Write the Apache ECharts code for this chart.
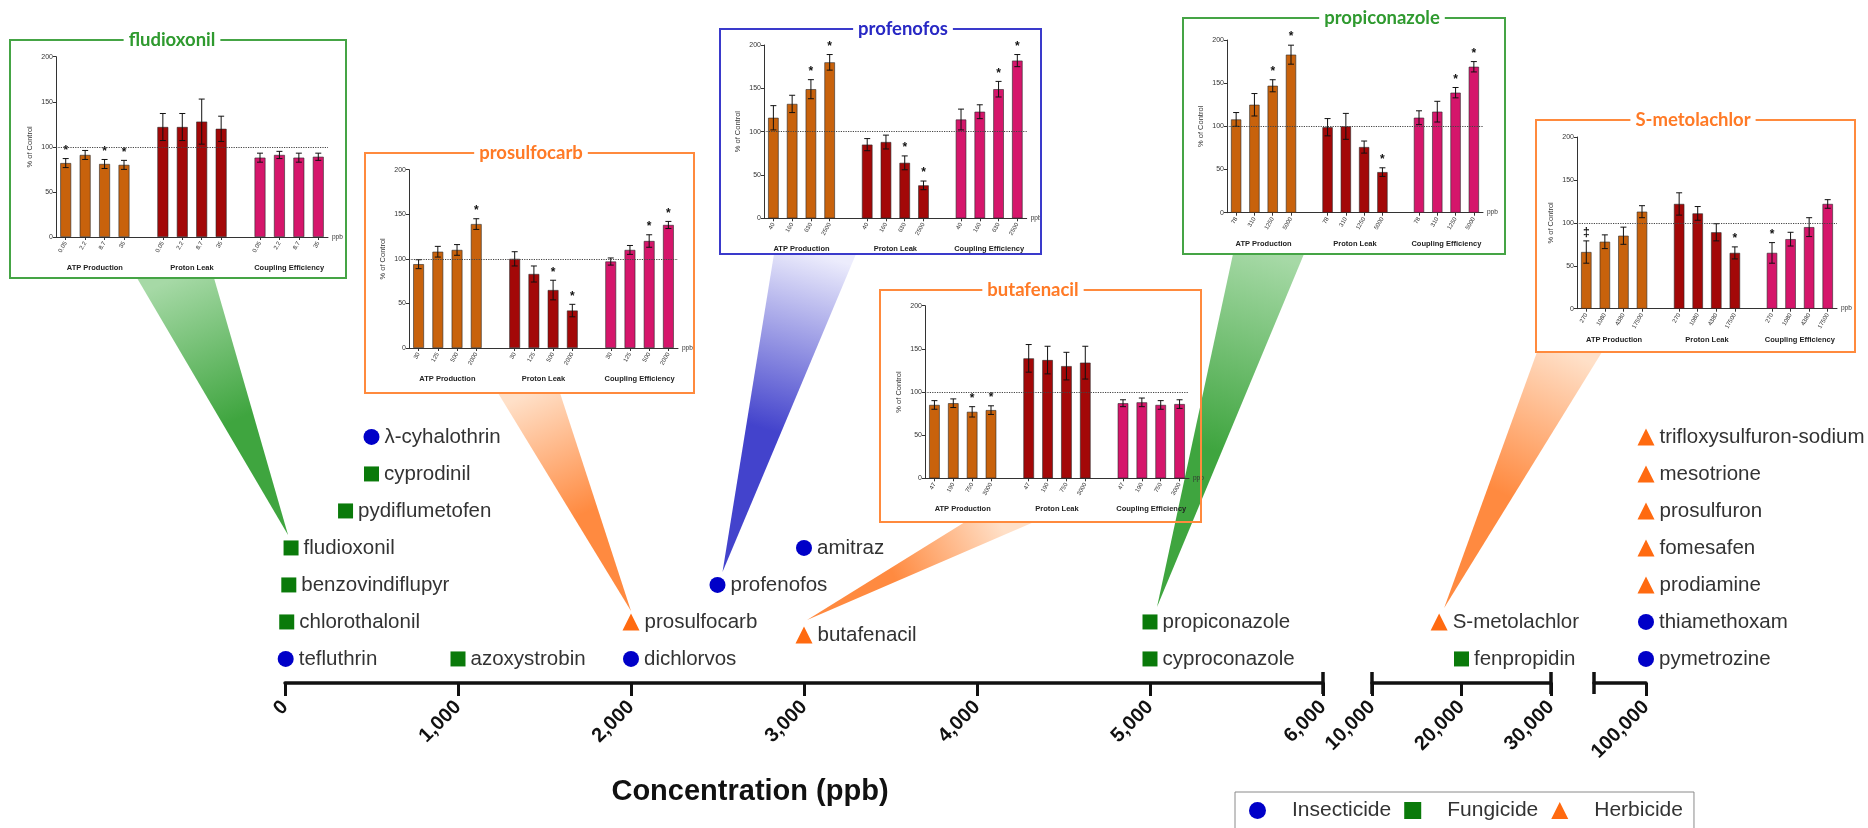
<!DOCTYPE html>
<html>
<head>
<meta charset="utf-8">
<script src="https://cdn.jsdelivr.net/npm/echarts@6/dist/echarts.min.js"></script>
<style>
  html, body { margin: 0; padding: 0; background: #ffffff; }
  #chart { width: 1868px; height: 828px; }
</style>
</head>
<body>
<div id="chart"></div>
<script>
// ---------------- data ----------------
const classNames = ['Insecticide', 'Fungicide', 'Herbicide'];

const compoundNames = ['tefluthrin', 'chlorothalonil', 'benzovindiflupyr', 'fludioxonil', 'pydiflumetofen',
  'cyprodinil', 'λ-cyhalothrin', 'azoxystrobin', 'dichlorvos', 'prosulfocarb', 'profenofos', 'butafenacil',
  'amitraz', 'cyproconazole', 'propiconazole', 'fenpropidin', 'S-metolachlor', 'pymetrozine', 'thiamethoxam',
  'prodiamine', 'fomesafen', 'prosulfuron', 'mesotrione', 'trifloxysulfuron-sodium'];
// 0 = insecticide, 1 = fungicide, 2 = herbicide
const compoundClass = [0, 1, 1, 1, 1, 1, 0, 1, 0, 2, 0, 2, 0, 1, 1, 1, 2, 0, 0, 2, 2, 2, 2, 2];
const compoundConc = [4, 10, 22, 35, 350, 500, 500, 1000, 2000, 2000, 2500, 3000, 3000, 5000, 5000,
  20000, 17500, 100000, 100000, 100000, 100000, 100000, 100000, 100000];
// vertical stacking slot of each label above the axis
const compoundRow = [0, 1, 2, 3, 4, 5, 6, 0, 0, 1, 2, 0.65, 3, 0, 1, 0, 1, 0, 1, 2, 3, 4, 5, 6];

// broken concentration axis: three segments
const segmentRanges = [[0, 6000], [10000, 30000], [90000, 100000]];
const segmentIntervals = [1000, 10000, 10000];

// seahorse insets: % of control, three endpoints x four concentrations
const groupNames = ['ATP Production', 'Proton Leak', 'Coupling Efficiency'];
const insetNames = ['fludioxonil', 'prosulfocarb', 'profenofos', 'butafenacil', 'propiconazole', 'S-metolachlor'];

const fludioxonilConc = ['0.05', '2.2', '8.7', '35'];
const fludioxonilMean = [82, 91, 81, 80, 122, 122, 128, 120, 88, 91, 88, 89];
const fludioxonilSem = [5, 5, 5, 5, 15, 15, 25, 14, 5, 4, 5, 4];
const fludioxonilSig = ['*', '', '*', '*', '', '', '', '', '', '', '', ''];

const prosulfocarbConc = ['30', '125', '500', '2000'];
const prosulfocarbMean = [94, 108, 110, 139, 100, 83, 65, 42, 97, 110, 120, 138];
const prosulfocarbSem = [5, 6, 6, 6, 8, 9, 11, 7, 4, 5, 7, 4];
const prosulfocarbSig = ['', '', '', '*', '', '', '*', '*', '', '', '*', '*'];

const profenofosConc = ['40', '160', '630', '2500'];
const profenofosMean = [116, 132, 149, 180, 85, 88, 64, 38, 114, 123, 149, 182];
const profenofosSem = [14, 10, 11, 9, 7, 8, 8, 5, 12, 8, 9, 7];
const profenofosSig = ['', '', '*', '*', '', '', '*', '*', '', '', '*', '*'];

const butafenacilConc = ['47', '190', '750', '3000'];
const butafenacilMean = [85, 87, 77, 79, 139, 137, 130, 134, 87, 88, 85, 86];
const butafenacilSem = [5, 5, 6, 5, 16, 16, 16, 19, 4, 5, 5, 5];
const butafenacilSig = ['', '', '*', '*', '', '', '', '', '', '', '', ''];

const propiconazoleConc = ['78', '310', '1250', '5000'];
const propiconazoleMean = [108, 125, 147, 183, 99, 100, 76, 47, 110, 117, 139, 169];
const propiconazoleSem = [8, 13, 7, 11, 10, 15, 7, 5, 8, 12, 6, 6];
const propiconazoleSig = ['', '', '*', '*', '', '', '', '*', '', '', '*', '*'];

const metolachlorConc = ['270', '1080', '4380', '17500'];
const metolachlorMean = [66, 78, 85, 113, 122, 111, 89, 65, 65, 81, 95, 122];
const metolachlorSem = [13, 8, 10, 7, 13, 8, 10, 7, 12, 8, 11, 5];
const metolachlorSig = ['‡', '', '', '', '', '', '', '*', '*', '', '', ''];

const insetConc = [fludioxonilConc, prosulfocarbConc, profenofosConc, butafenacilConc, propiconazoleConc, metolachlorConc];
const insetMean = [fludioxonilMean, prosulfocarbMean, profenofosMean, butafenacilMean, propiconazoleMean, metolachlorMean];
const insetSem = [fludioxonilSem, prosulfocarbSem, profenofosSem, butafenacilSem, propiconazoleSem, metolachlorSem];
const insetSig = [fludioxonilSig, prosulfocarbSig, profenofosSig, butafenacilSig, propiconazoleSig, metolachlorSig];

// ---------------- layout & style ----------------
const FONT = '"Liberation Sans", Arial, sans-serif';
const classColors = ['#0000c8', '#0a7a0a', '#ff6a10'];
const classSymbols = ['circle', 'rect', 'triangle'];
const classSizes = [16, 15, 17];
const barColors = ['#c8620c', '#a30808', '#d5166b'];

const AXIS_Y = 683;
const ROW_MIN = -0.65, ROW_MAX = 6.5, ROW_PX = 37;
const segmentPixels = [[285, 1323], [1372, 1551], [1594, 1646]];
const segmentCaps = [[false, true], [true, true], [true, false]];

// 14 category slots per inset: 4 bars, gap, 4 bars, gap, 4 bars
const SLOT_BAR = [0, 1, 2, 3, -1, 4, 5, 6, 7, -1, 8, 9, 10, 11];
const BAR_SLOT = [0, 1, 2, 3, 5, 6, 7, 8, 10, 11, 12, 13];
const GROUP_CENTERS = [2, 7, 12];

const insetBoxes = [[10, 40, 336, 238], [365, 153, 329, 240], [720, 29, 321, 225],
  [880, 290, 321, 232], [1183, 18, 322, 236], [1536, 120, 319, 232]];
const insetPlots = [[56, 56.7, 272, 180.3], [409, 169.7, 269, 178.3], [764, 45, 262.7, 173.3],
  [925, 305.7, 264, 172.6], [1227, 40, 256, 172.7], [1577, 137, 260, 171.7]];
const insetTitleX = [172, 531, 903, 1033, 1382, 1693];
const insetBorder = ['#45a445', '#ff8a3d', '#3a3acb', '#ff8a3d', '#45a445', '#ff8a3d'];
const insetTitleColor = ['#2f9a2f', '#ff7a26', '#2828c4', '#ff7a26', '#2f9a2f', '#ff7a26'];

const wedgePalette = {
  green: ['#a6d9a6', '#3fa53f'],
  orange: ['#ffe0c8', '#ff8a40'],
  blue: ['#ececfc', '#4343cc']
};
const callouts = [
  { compound: 'fludioxonil', inset: 0, base: [137, 214], tip: [-3, -13], hue: 'green' },
  { compound: 'prosulfocarb', inset: 1, base: [498, 560], tip: [0, -11], hue: 'orange' },
  { compound: 'profenofos', inset: 2, base: [774, 856], tip: [5, -13], hue: 'blue' },
  { compound: 'butafenacil', inset: 3, base: [965, 1034], tip: [3, -15], hue: 'orange' },
  { compound: 'propiconazole', inset: 4, base: [1233, 1304], tip: [7, -15], hue: 'green' },
  { compound: 'S-metolachlor', inset: 5, base: [1537, 1602], tip: [5, -14], hue: 'orange' }
];

// ---------------- build option ----------------
const grids = [], xAxes = [], yAxes = [], series = [];

function segmentOf(conc) {
  return segmentRanges.findIndex(r => conc >= r[0] && conc <= r[1]);
}

segmentRanges.forEach((range, s) => {
  const [x0, x1] = segmentPixels[s];
  const h = (ROW_MAX - ROW_MIN) * ROW_PX;
  grids.push({ left: x0, width: x1 - x0, top: AXIS_Y - h, height: h });
  xAxes.push({
    type: 'value', gridIndex: s, min: range[0], max: range[1], interval: segmentIntervals[s],
    position: 'bottom',
    axisLine: { show: true, onZero: false, lineStyle: { color: '#111', width: 3.5 } },
    axisTick: { show: true, length: 13, lineStyle: { color: '#111', width: 3 } },
    splitLine: { show: false },
    axisLabel: {
      rotate: 45, fontSize: 20, fontWeight: 'bold', color: '#111', fontFamily: FONT, margin: 21,
      showMinLabel: s !== 2,
      formatter: v => v.toLocaleString('en-US')
    }
  });
  yAxes.push({ type: 'value', gridIndex: s, min: ROW_MIN, max: ROW_MAX, show: false });

  classNames.forEach((cn, c) => {
    const data = [];
    compoundNames.forEach((nm, k) => {
      if (compoundClass[k] === c && segmentOf(compoundConc[k]) === s) {
        data.push({ name: nm, value: [compoundConc[k], compoundRow[k]] });
      }
    });
    if (!data.length) return;
    series.push({
      type: 'scatter', name: cn, xAxisIndex: s, yAxisIndex: s, clip: false,
      symbol: classSymbols[c], symbolSize: classSizes[c],
      itemStyle: { color: classColors[c], opacity: 1 },
      label: { show: true, position: 'right', distance: 5, formatter: '{b}', fontSize: 20.5, color: '#333', fontFamily: FONT },
      emphasis: { disabled: true },
      data: data, z: 5
    });
  });

  // break caps at the segment ends
  const caps = [];
  if (segmentCaps[s][0]) caps.push([range[0], ROW_MIN]);
  if (segmentCaps[s][1]) caps.push([range[1], ROW_MIN]);
  series.push({
    type: 'scatter', name: 'axis-break', xAxisIndex: s, yAxisIndex: s, clip: false, silent: true,
    symbol: 'rect', symbolSize: [3.5, 22], itemStyle: { color: '#111', opacity: 1 },
    emphasis: { disabled: true }, data: caps, z: 6
  });
});

insetNames.forEach((nm, i) => {
  const g = 3 + i;
  const [pl, pt, pw, ph] = insetPlots[i];
  grids.push({ left: pl, top: pt, width: pw, height: ph });
  const conc = insetConc[i];
  const mean = insetMean[i], sem = insetSem[i], sig = insetSig[i];
  const catAxis = 3 + 2 * i;

  xAxes.push({
    type: 'category', gridIndex: g, data: SLOT_BAR.map((b, k) => 's' + k), boundaryGap: true,
    axisLine: { show: true, lineStyle: { color: '#333', width: 1 } },
    axisTick: { show: true, alignWithLabel: true, length: 3, interval: (k) => SLOT_BAR[k] >= 0, lineStyle: { color: '#333' } },
    axisLabel: {
      interval: 0, rotate: 60, fontSize: 6, margin: 5, color: '#333', fontFamily: FONT,
      formatter: (v, k) => SLOT_BAR[k] < 0 ? '' : conc[SLOT_BAR[k] % 4]
    },
    name: 'ppb', nameLocation: 'end', nameGap: 4,
    nameTextStyle: { fontSize: 6.5, color: '#333', fontFamily: FONT, padding: [22, 0, 0, 0] }
  });
  xAxes.push({
    type: 'value', gridIndex: g, min: 0, max: 14, position: 'bottom', offset: 24,
    axisLine: { show: false }, axisTick: { show: false }, splitLine: { show: false },
    axisLabel: {
      customValues: GROUP_CENTERS, margin: 3, fontSize: 7.5, fontWeight: 'bold', color: '#222', fontFamily: FONT,
      formatter: v => { const idx = GROUP_CENTERS.indexOf(v); return idx >= 0 ? groupNames[idx] : ''; }
    }
  });
  yAxes.push({
    type: 'value', gridIndex: g, min: 0, max: 200, interval: 50,
    axisLine: { show: true, lineStyle: { color: '#333', width: 1 } },
    axisTick: { show: true, length: 3, lineStyle: { color: '#333' } },
    splitLine: { show: false },
    axisLabel: { fontSize: 7, margin: 3, color: '#333', fontFamily: FONT },
    name: '% of Control', nameLocation: 'middle', nameGap: 22,
    nameTextStyle: { fontSize: 7.5, color: '#333', fontFamily: FONT }
  });

  series.push({
    type: 'bar', xAxisIndex: catAxis, yAxisIndex: g, barWidth: '56%', silent: true,
    itemStyle: { borderColor: '#2a2a2a', borderWidth: 0.6 },
    data: SLOT_BAR.map(b => b < 0 ? '-' : { value: mean[b], itemStyle: { color: barColors[Math.floor(b / 4)] } }),
    markLine: {
      silent: true, symbol: 'none', label: { show: false },
      lineStyle: { type: 'dotted', color: '#444', width: 1.2 },
      data: [{ yAxis: 100 }]
    },
    z: 3
  });

  series.push({
    type: 'custom', xAxisIndex: catAxis, yAxisIndex: g, silent: true, clip: false,
    data: mean.map((m, b) => [BAR_SLOT[b], m, sem[b]]),
    renderItem: function (params, api) {
      const x = api.value(0), m = api.value(1), e = api.value(2);
      const top = api.coord([x, m + e]);
      const bot = api.coord([x, m - e]);
      const hw = 3;
      const st = { stroke: '#111', lineWidth: 1 };
      const children = [
        { type: 'line', shape: { x1: top[0], y1: top[1], x2: bot[0], y2: bot[1] }, style: st },
        { type: 'line', shape: { x1: top[0] - hw, y1: top[1], x2: top[0] + hw, y2: top[1] }, style: st },
        { type: 'line', shape: { x1: bot[0] - hw, y1: bot[1], x2: bot[0] + hw, y2: bot[1] }, style: st }
      ];
      const mark = sig[params.dataIndex];
      if (mark) {
        children.push({
          type: 'text',
          style: {
            text: mark, x: top[0], y: top[1] - 2, align: 'center', verticalAlign: 'bottom',
            font: 'bold 12px ' + FONT, fill: '#111'
          }
        });
      }
      return { type: 'group', children: children };
    },
    z: 4
  });
});

const option = {
  animation: false,
  textStyle: { fontFamily: FONT },
  grid: grids,
  xAxis: xAxes,
  yAxis: yAxes,
  legend: {
    data: [
      { name: 'Insecticide', icon: 'circle' },
      { name: 'Fungicide', icon: 'rect' },
      { name: 'Herbicide', icon: 'triangle' }
    ],
    left: 1235, top: 792, orient: 'horizontal',
    padding: [8, 11, 14, 14], itemGap: 13, itemWidth: 17, itemHeight: 17,
    borderColor: '#8a8a8a', borderWidth: 1, selectedMode: false,
    textStyle: { fontSize: 21, color: '#333', fontFamily: FONT, padding: [0, 0, 0, 21] }
  },
  series: series
};

const chart = echarts.init(document.getElementById('chart'));
chart.setOption(option);

// ---------------- boxes, titles and callout wedges ----------------
const graphics = [];

callouts.forEach((cfg, n) => {
  const k = compoundNames.indexOf(cfg.compound);
  const s = segmentOf(compoundConc[k]);
  const p = chart.convertToPixel({ gridIndex: s }, [compoundConc[k], compoundRow[k]]);
  const tip = [p[0] + cfg.tip[0], p[1] + cfg.tip[1]];
  const box = insetBoxes[cfg.inset];
  const by = box[1] + box[3];
  const mid = [(cfg.base[0] + cfg.base[1]) / 2, by];
  const pal = wedgePalette[cfg.hue];
  graphics.push({
    type: 'polygon', id: 'wedge' + n, z: 0, silent: true,
    shape: { points: [[cfg.base[0], by], [cfg.base[1], by], tip] },
    style: {
      fill: new echarts.graphic.LinearGradient(mid[0], mid[1], tip[0], tip[1],
        [{ offset: 0, color: pal[0] }, { offset: 0.55, color: pal[1] }, { offset: 1, color: pal[1] }], true)
    }
  });
});

insetNames.forEach((nm, i) => {
  const [bx, by, bw, bh] = insetBoxes[i];
  graphics.push({
    type: 'rect', id: 'box' + i, z: 1, silent: true,
    shape: { x: bx, y: by, width: bw, height: bh },
    style: { fill: null, stroke: insetBorder[i], lineWidth: 2 }
  });
  graphics.push({
    type: 'text', id: 'title' + i, z: 10, silent: true,
    style: {
      text: nm, x: insetTitleX[i], y: by, align: 'center', verticalAlign: 'middle',
      font: 'bold 18.5px Lato, "Liberation Sans", sans-serif', fill: insetTitleColor[i],
      backgroundColor: '#ffffff', padding: [0, 5, 0, 5]
    }
  });
});

graphics.push({
  type: 'text', id: 'axisTitle', z: 10, silent: true,
  style: {
    text: 'Concentration (ppb)', x: 750, y: 792, align: 'center', verticalAlign: 'middle',
    font: 'bold 29px ' + FONT, fill: '#111'
  }
});

chart.setOption({ graphic: { elements: graphics } });
</script>
</body>
</html>
